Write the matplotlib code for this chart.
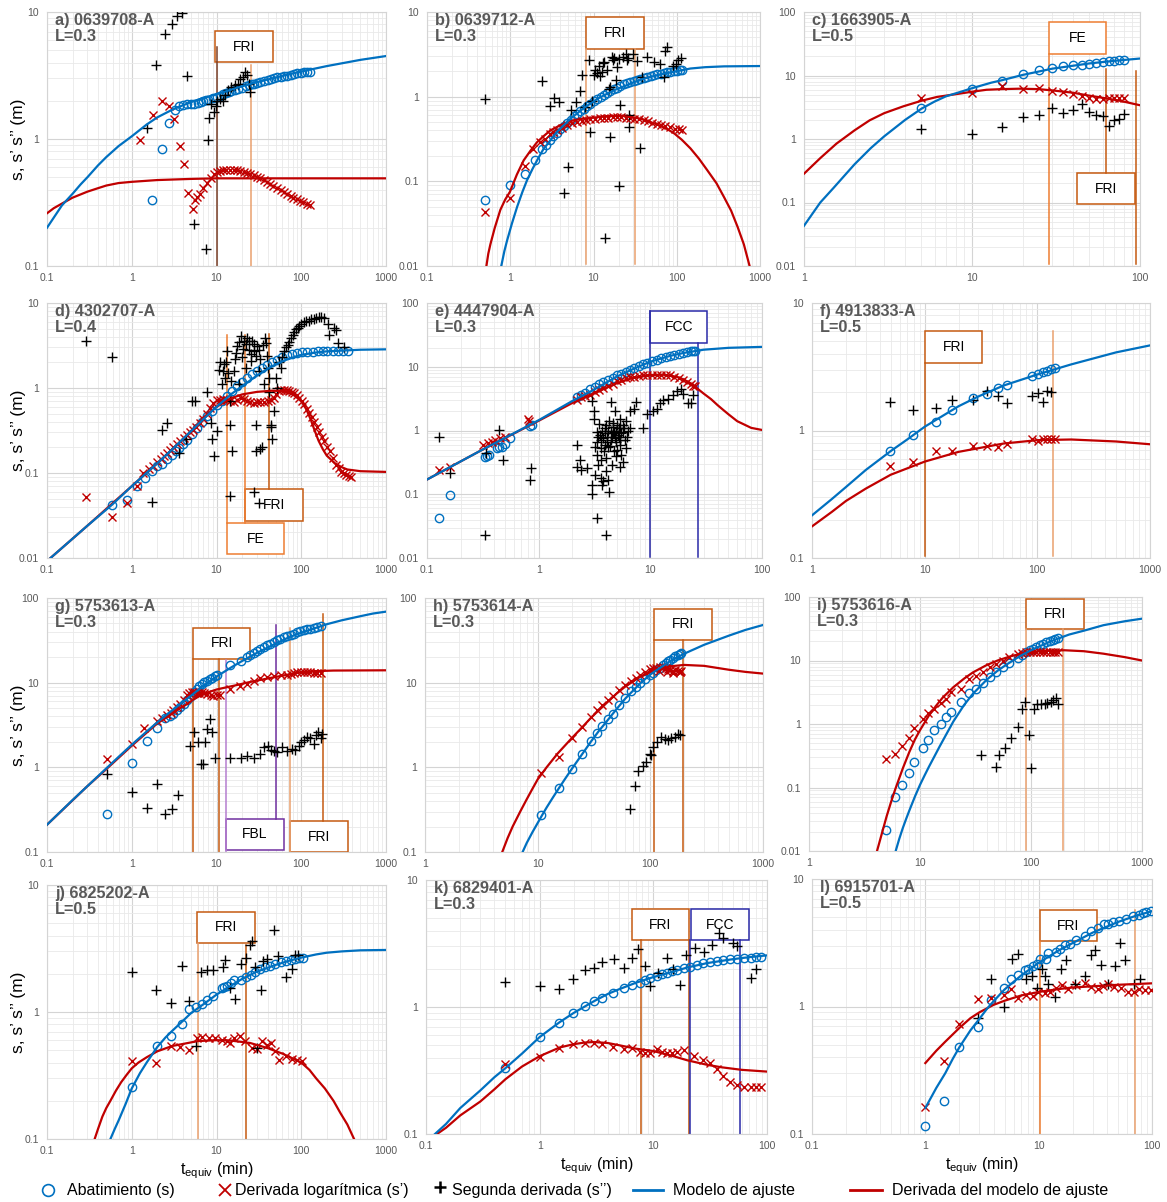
import matplotlib
matplotlib.use("Agg")
import matplotlib.pyplot as plt
from matplotlib.lines import Line2D
from matplotlib.patches import Rectangle
from matplotlib.ticker import LogLocator, FuncFormatter, NullFormatter

OUTPUT_PATH = "out.png"
FIG_W, FIG_H = 1167, 1202

BLUE = "#0070C0"
RED = "#C00000"
TICK_GRAY = "#595959"
LIMIT_COLORS = {
    "fri": "#C55A11",
    "fri_light": "#E9A06E",
    "fe": "#ED7D31",
    "fbl": "#7030A0",
    "fbl_light": "#B57FD0",
    "fcc": "#2A2AA8",
    "dark": "#7A4028",
}

# ---------------------------------------------------------------- well data
# every series is a list of (t_equiv [min], value [m])

A_S = [(1.73, 0.33), (2.25, 0.83), (2.73, 1.34), (3.2, 1.68), (3.65, 1.83), (4.0, 1.86), (4.5, 1.87),
       (5.0, 1.88), (5.5, 1.9), (6.0, 1.93), (6.5, 1.96), (7.0, 1.99), (7.5, 2.01), (8.0, 2.04), (9.0, 2.09),
       (10, 2.15), (11, 2.2), (12, 2.25), (13, 2.3), (14, 2.34), (15, 2.38), (16.5, 2.43), (18, 2.48),
       (20, 2.54), (22, 2.6), (24, 2.65), (26, 2.69), (28, 2.73), (30, 2.77), (33, 2.82), (36, 2.87),
       (40, 2.92), (44, 2.97), (48, 3.01), (52, 3.05), (57, 3.09), (62, 3.12), (68, 3.16), (75, 3.2),
       (82, 3.24), (90, 3.28), (98, 3.31), (107, 3.34), (117, 3.36), (128, 3.38)]
A_DS = [(1.26, 0.99), (1.77, 1.54), (2.25, 1.98), (2.73, 1.81), (3.18, 1.43), (3.74, 0.875), (4.13, 0.64),
        (4.6, 0.378), (5.27, 0.28), (5.6, 0.33), (5.9, 0.35), (6.4, 0.37), (6.9, 0.41), (7.8, 0.45),
        (8.5, 0.49), (9.3, 0.53), (10.2, 0.55), (11, 0.56), (12, 0.57), (13, 0.575), (14.5, 0.575),
        (16, 0.575), (17.5, 0.57), (19, 0.56), (21, 0.55), (23, 0.54), (25, 0.53), (27.5, 0.52), (30, 0.505),
        (33, 0.49), (36, 0.475), (39, 0.46), (43, 0.445), (47, 0.43), (52, 0.41), (57, 0.395), (62, 0.385),
        (68, 0.37), (75, 0.355), (81, 0.345), (88, 0.335), (96, 0.325), (106, 0.318), (116, 0.31), (128, 0.303)]
A_D2S = [(1.51, 1.22), (1.95, 3.8), (2.47, 6.75), (2.97, 8.0), (3.4, 9.3), (3.9, 9.9), (4.49, 3.11),
         (5.37, 0.216), (7.47, 0.135), (7.86, 0.98), (8.2, 1.47), (8.7, 1.87), (9.3, 1.63), (9.8, 1.82),
         (10.2, 2.0), (11.1, 2.05), (12, 2.0), (12.7, 2.23), (13.8, 2.45), (15, 2.56), (16.6, 2.66),
         (17.9, 2.72), (19.1, 2.96), (20.4, 3.1), (21.8, 3.35), (23, 3.2), (24, 2.72), (24.8, 2.34)]
A_FIT = [(0.1, 0.2), (0.12, 0.24), (0.15, 0.3), (0.2, 0.37), (0.25, 0.44), (0.3, 0.5), (0.4, 0.62),
         (0.5, 0.72), (0.7, 0.88), (1, 1.05), (1.5, 1.3), (2, 1.48), (3, 1.7), (4, 1.84), (5, 1.95), (7, 2.1),
         (10, 2.25), (15, 2.45), (20, 2.6), (30, 2.8), (50, 3.05), (70, 3.22), (100, 3.4), (200, 3.75),
         (500, 4.2), (1000, 4.5)]
A_DFIT = [(0.1, 0.26), (0.12, 0.285), (0.15, 0.31), (0.2, 0.345), (0.3, 0.385), (0.4, 0.41), (0.5, 0.43),
          (0.7, 0.45), (1, 0.46), (2, 0.475), (5, 0.485), (10, 0.49), (1000, 0.49)]
A_LIMITS = [(10, 0.1, 5.3, "dark"), (25.5, 0.1, 3.8, "fri_light")]
A_BOXES = [(9.5, 46, 4.02, 7.08, "FRI", "fri")]

B_S = [(0.503, 0.061), (0.99, 0.091), (1.49, 0.121), (1.97, 0.18), (2.4, 0.239), (2.7, 0.27), (3.04, 0.305),
       (3.3, 0.34), (3.66, 0.372), (4.0, 0.41), (4.4, 0.445), (4.8, 0.49), (5.3, 0.536), (5.8, 0.585),
       (6.3, 0.63), (6.9, 0.675), (7.6, 0.72), (8.4, 0.775), (9.2, 0.83), (10.1, 0.89), (11.1, 0.95),
       (12.2, 1.0), (13.3, 1.06), (14.6, 1.11), (16, 1.17), (17.6, 1.22), (19.3, 1.28), (21, 1.34), (23, 1.4),
       (25.3, 1.45), (27.8, 1.49), (30.5, 1.54), (33.5, 1.58), (36.6, 1.63), (40, 1.67), (44, 1.72),
       (48.5, 1.77), (53, 1.8), (58, 1.83), (64, 1.87), (70, 1.9), (77, 1.94), (84, 1.97), (92, 2.0),
       (101, 2.03), (108, 2.05), (116, 2.08)]
B_DS = [(0.503, 0.043), (0.99, 0.064), (1.49, 0.152), (1.9, 0.24), (2.3, 0.29), (2.6, 0.32), (3.0, 0.36),
        (3.3, 0.38), (3.66, 0.4), (4.2, 0.43), (4.8, 0.46), (5.5, 0.485), (6.3, 0.5), (7.2, 0.515), (8.2, 0.53),
        (9.2, 0.54), (10.5, 0.55), (12, 0.555), (13.3, 0.56), (15, 0.565), (17, 0.57), (19.3, 0.575),
        (21.5, 0.57), (24.5, 0.565), (27.8, 0.56), (31, 0.55), (35, 0.54), (40, 0.53), (45, 0.51), (51, 0.49),
        (58, 0.48), (65, 0.46), (73, 0.45), (84, 0.44), (95, 0.42), (105, 0.41), (116, 0.4)]
B_D2S = [(0.503, 0.93), (2.4, 1.52), (3.0, 0.78), (3.4, 0.96), (3.9, 0.86), (4.4, 0.072), (5.0, 0.147),
         (5.3, 0.69), (6.1, 0.87), (6.8, 1.16), (7.2, 1.78), (7.9, 0.76), (8.8, 2.7), (9.2, 0.385), (9.5, 0.9),
         (10, 1.8), (10.3, 2.05), (11, 1.9), (11.6, 2.3), (12, 1.75), (12.5, 1.95), (13, 2.47), (13.5, 2.6),
         (13.9, 0.0217), (14.4, 2.06), (15.3, 1.24), (15.8, 0.33), (16, 1.3), (16.8, 2.95), (17.2, 2.74),
         (17.8, 2.9), (18.4, 1.56), (19.3, 2.24), (20, 2.8), (20.3, 0.088), (21, 0.8), (22.5, 2.95),
         (24.3, 3.2), (25, 2.72), (26, 2.9), (26.5, 0.61), (27, 0.44), (29.7, 3.2), (33.5, 2.63), (36.6, 0.25),
         (38, 1.7), (44, 2.95), (53, 2.55), (62.5, 2.44), (70, 1.7), (71.5, 3.5), (77, 3.87), (91, 2.3),
         (98, 2.4), (104, 2.7), (112, 2.85)]
B_FIT = [(0.78, 0.01), (0.85, 0.015), (0.916, 0.02), (1.05, 0.032), (1.21, 0.05), (1.4, 0.075), (1.59, 0.103),
         (1.85, 0.14), (2.1, 0.177), (2.5, 0.24), (3.04, 0.305), (3.6, 0.38), (4.4, 0.46), (5.3, 0.55),
         (6.3, 0.63), (7.6, 0.73), (9.2, 0.83), (11.5, 0.96), (14.5, 1.08), (18, 1.2), (23, 1.32), (30, 1.47),
         (40, 1.63), (55, 1.77), (70, 1.87), (100, 2.0), (146, 2.15), (220, 2.23), (370, 2.28), (1000, 2.3)]
B_DFIT = [(0.517, 0.01), (0.545, 0.014), (0.577, 0.018), (0.65, 0.028), (0.76, 0.046), (0.87, 0.061),
          (0.99, 0.075), (1.2, 0.12), (1.45, 0.177), (1.75, 0.23), (2.1, 0.29), (2.5, 0.34), (3.04, 0.4),
          (4, 0.46), (5.3, 0.515), (7, 0.545), (9.2, 0.56), (14.5, 0.59), (23, 0.59), (36.6, 0.55), (58, 0.47),
          (75, 0.42), (92.6, 0.37), (115, 0.31), (146, 0.245), (185, 0.185), (233, 0.135), (300, 0.095),
          (370, 0.065), (450, 0.045), (538, 0.029), (640, 0.018), (750, 0.01)]
B_LIMITS = [(8.2, 0.0105, 3.69, "fri_light"), (31.4, 0.0105, 3.69, "fri_light")]
B_BOXES = [(8.2, 40.8, 3.69, 8.73, "FRI", "fri")]

C_S = [(5, 3.08), (10, 6.2), (15, 8.3), (20, 10.4), (25, 12.0), (30, 13.1), (35, 13.9), (40, 14.4), (45, 14.9),
       (50, 15.4), (55, 15.9), (60, 16.3), (65, 16.7), (70, 17.1), (75, 17.4), (80, 17.7)]
C_DS = [(5, 4.42), (10, 5.3), (15, 6.8), (20, 6.2), (25, 6.4), (30, 5.8), (35, 5.4), (40, 5.2), (45, 4.7),
        (50, 4.4), (55, 4.3), (60, 4.3), (65, 4.35), (70, 4.45), (75, 4.4), (80, 4.35)]
C_D2S = [(5, 1.44), (10, 1.2), (15, 1.54), (20, 2.2), (25, 2.4), (30, 3.1), (35, 2.6), (40, 2.9), (45, 3.5),
         (50, 2.7), (55, 2.35), (60, 2.3), (65, 1.6), (70, 2.0), (75, 2.1), (80, 2.5)]
C_FIT = [(1, 0.043), (1.25, 0.1), (1.5, 0.17), (2, 0.4), (2.5, 0.72), (3, 1.1), (4, 2.0), (5, 3.0), (6, 3.9),
         (7, 4.7), (8.5, 5.5), (10, 6.3), (13, 7.7), (15, 8.4), (20, 10.2), (30, 12.8), (50, 15.5), (70, 17.0),
         (100, 18.5)]
C_DFIT = [(1, 0.284), (1.25, 0.5), (1.56, 0.845), (2, 1.37), (2.46, 1.97), (3, 2.55), (3.9, 3.27), (5, 4.0),
          (6.2, 4.6), (7.7, 5.0), (10, 5.55), (12.2, 5.96), (15, 6.1), (19.3, 6.2), (25, 6.1), (30.5, 5.8),
          (40, 5.35), (48, 4.9), (60, 4.45), (76, 4.0), (100, 3.4)]
C_LIMITS = [(28.6, 0.0107, 22, "fe"), (62.7, 0.295, 12.8, "fri"), (94.2, 0.0107, 11.8, "fri")]
C_BOXES = [(28.6, 62.7, 22, 69.6, "FE", "fe"), (42.3, 93.4, 0.0935, 0.295, "FRI", "fri")]

D_S = [(0.58, 0.0417), (0.87, 0.0486), (1.14, 0.07), (1.44, 0.0874), (1.73, 0.107), (2.0, 0.12),
       (2.27, 0.129), (2.6, 0.147), (2.98, 0.164), (3.3, 0.18), (3.57, 0.197), (4.0, 0.22), (4.45, 0.247),
       (5.1, 0.29), (5.86, 0.34), (6.7, 0.4), (7.7, 0.464), (8.8, 0.54), (10.1, 0.625), (11.5, 0.71),
       (13.2, 0.81), (15.2, 0.93), (17.5, 1.05), (20, 1.18), (23, 1.31), (26.3, 1.45), (30, 1.6), (34.5, 1.74),
       (39.6, 1.88), (45, 2.02), (52, 2.15), (60, 2.29), (68.4, 2.42), (78, 2.5), (90, 2.58), (103, 2.62),
       (118, 2.65), (136, 2.68), (156, 2.7), (180, 2.7), (204, 2.7), (235, 2.7), (268, 2.7), (310, 2.7),
       (352, 2.7)]
D_DS = [(0.29, 0.052), (0.58, 0.03), (0.87, 0.0438), (1.14, 0.071), (1.37, 0.1), (1.6, 0.11), (1.8, 0.122),
        (2.0, 0.135), (2.2, 0.148), (2.4, 0.16), (2.6, 0.172), (2.85, 0.187), (3.1, 0.202), (3.4, 0.218),
        (3.7, 0.235), (4.1, 0.255), (4.5, 0.278), (4.9, 0.3), (5.3, 0.32), (5.8, 0.35), (6.4, 0.385),
        (7.0, 0.43), (7.7, 0.5), (8.4, 0.58), (9.2, 0.66), (10, 0.72), (11, 0.73), (12, 0.74), (13.2, 0.73),
        (14.5, 0.71), (15.9, 0.69), (17.5, 0.72), (19.2, 0.76), (21, 0.74), (23, 0.71), (25, 0.69),
        (27.6, 0.67), (30, 0.68), (33, 0.69), (36, 0.69), (40, 0.7), (43.5, 0.73), (47.6, 0.76), (51, 0.84),
        (54.5, 0.91), (58, 0.94), (62.5, 0.96), (67, 0.95), (71.8, 0.93), (77, 0.9), (82.5, 0.87), (88, 0.82),
        (94.7, 0.76), (101, 0.7), (108.7, 0.64), (116, 0.57), (124.7, 0.51), (133, 0.45), (143, 0.4),
        (153, 0.35), (164, 0.3), (176, 0.265), (188, 0.235), (202, 0.205), (216, 0.18), (237, 0.151),
        (259, 0.125), (276, 0.113), (296, 0.104), (318, 0.1), (340, 0.096), (365, 0.092), (390, 0.09)]
D_D2S = [(0.29, 3.6), (0.58, 2.3), (1.73, 0.0456), (2.27, 0.318), (2.6, 0.39), (3.57, 0.17), (4.4, 0.25),
         (5.1, 0.7), (5.6, 0.7), (7.7, 0.9), (8.5, 0.39), (8.9, 0.25), (9.4, 0.16), (10.1, 0.31), (10.6, 1.64),
         (11.1, 2.0), (11.6, 1.1), (12, 1.6), (12.1, 1.9), (12.6, 1.3), (13, 2.0), (13.3, 2.7), (13.8, 1.5),
         (14.6, 0.7), (14.6, 0.37), (14.6, 0.054), (15, 1.2), (15.3, 0.18), (16, 1.6), (16.5, 2.2), (17, 2.6),
         (17.5, 3.1), (18.3, 1.1), (18.5, 3.5), (19.2, 4.1), (20, 2.3), (20.5, 2.9), (21, 3.6), (22, 1.7),
         (22.5, 3.3), (23, 3.9), (24, 3.6), (24.2, 2.8), (25.3, 2.1), (25.8, 2.5), (26.5, 3.6), (27.6, 2.7),
         (27.6, 0.06), (28, 3.3), (28.9, 0.37), (28.9, 0.18), (29, 2.4), (30, 3.1), (31.6, 1.6),
         (31.6, 0.0445), (32, 2.8), (33, 2.2), (33, 0.19), (34.6, 0.2), (35, 3.2), (36, 1.1), (37.7, 3.9),
         (38, 3.4), (39.6, 2.4), (40, 1.7), (41.6, 0.9), (42, 1.3), (43.5, 0.37), (44, 0.35), (45.7, 0.25),
         (47.9, 0.53), (50, 1.3), (52, 1.0), (55, 2.0), (57.5, 1.7), (60, 2.3), (63, 2.7), (66, 3.0),
         (68.9, 3.2), (72, 3.5), (75.6, 3.9), (80, 4.2), (83, 4.6), (87, 4.9), (91, 5.1), (95, 5.4),
         (99.6, 5.6), (107, 5.9), (114, 6.1), (122, 6.2), (131, 6.4), (140, 6.5), (150, 6.7), (160, 6.9),
         (172, 6.8), (186, 6.7), (205, 5.6), (215, 4.2), (246, 5.1), (258, 4.8), (270, 3.4), (320, 3.0)]
D_FIT = [(0.11, 0.01), (0.3, 0.024), (0.58, 0.042), (1, 0.07), (2, 0.13), (3, 0.19), (5, 0.31), (7, 0.43),
         (10, 0.6), (15, 0.85), (20, 1.05), (30, 1.4), (40, 1.68), (50, 1.9), (70, 2.2), (100, 2.45),
         (150, 2.62), (200, 2.7), (500, 2.82), (1000, 2.85)]
D_DFIT = [(0.11, 0.01), (0.3, 0.024), (1, 0.07), (2, 0.13), (3, 0.19), (5, 0.31), (7, 0.45), (10, 0.6),
          (15, 0.76), (20, 0.84), (30, 0.9), (45, 0.93), (60, 0.92), (80, 0.84), (100, 0.7), (115, 0.56),
          (130, 0.42), (145, 0.31), (160, 0.24), (180, 0.19), (200, 0.16), (250, 0.13), (300, 0.117),
          (350, 0.11), (500, 0.105), (1000, 0.103)]
D_LIMITS = [(13.3, 0.0258, 4.24, "fe"), (21.9, 0.0258, 4.24, "fe"), (41.4, 0.065, 4.3, "fri")]
D_BOXES = [(13.3, 63.3, 0.011, 0.0258, "FE", "fe"), (21.9, 105, 0.0275, 0.065, "FRI", "fri")]

E_S = [(0.127, 0.0424), (0.16, 0.0985), (0.332, 0.38), (0.344, 0.4), (0.36, 0.42), (0.42, 0.53), (0.44, 0.55),
       (0.47, 0.56), (0.5, 0.62), (0.55, 0.75), (0.84, 1.16), (0.87, 1.2), (2.19, 3.3), (2.4, 3.6), (2.6, 3.9),
       (2.9, 4.4), (3.2, 4.8), (3.5, 5.3), (3.8, 5.75), (4.2, 6.2), (4.6, 6.7), (5.0, 7.3), (5.5, 7.8),
       (6.0, 8.4), (6.6, 9.0), (7.2, 9.6), (7.9, 10.3), (8.6, 11.0), (9.4, 11.6), (10.3, 12.2), (11.4, 12.9),
       (12.5, 13.6), (13.7, 14.3), (15, 14.9), (16.4, 15.5), (18, 16.1), (19.7, 16.6), (21.5, 17.1),
       (23, 17.4), (24.2, 17.6), (25, 17.8)]
E_DS = [(0.127, 0.243), (0.16, 0.27), (0.32, 0.6), (0.35, 0.64), (0.38, 0.67), (0.41, 0.7), (0.45, 0.75),
        (0.5, 0.79), (0.8, 1.5), (0.82, 1.4), (2.19, 3.05), (2.4, 3.3), (2.6, 3.45), (2.9, 3.65), (3.2, 4.0),
        (3.5, 4.3), (3.8, 4.6), (4.2, 5.0), (4.6, 5.4), (5.0, 5.9), (5.5, 6.3), (6.0, 6.6), (6.6, 6.8),
        (7.2, 7.0), (7.9, 7.2), (8.6, 7.3), (9.4, 7.4), (10.3, 7.5), (11.4, 7.5), (12.5, 7.5), (13.7, 7.4),
        (15, 7.3), (16.4, 7.0), (18, 6.6), (19.7, 6.2), (21.5, 5.7), (23, 5.3), (24.2, 5.0), (25, 4.9)]
E_D2S = [(0.127, 0.79), (0.16, 0.215), (0.33, 0.023), (0.34, 0.44), (0.44, 1.01), (0.48, 0.34), (0.84, 0.165),
         (0.85, 0.26), (2.2, 0.6), (2.2, 0.27), (2.35, 0.35), (2.4, 0.24), (2.7, 0.26), (3.0, 2.9), (3.1, 2.0),
         (3.15, 1.5), (3.0, 0.14), (3.0, 0.1), (3.2, 0.2), (3.2, 0.55), (3.3, 0.96), (3.3, 0.67), (3.35, 0.42),
         (3.4, 0.29), (3.4, 0.8), (3.5, 1.25), (3.55, 0.86), (3.6, 0.53), (3.6, 0.7), (3.6, 0.35), (3.65, 0.18),
         (3.7, 0.14), (3.7, 1.0), (3.8, 0.76), (3.8, 0.16), (3.85, 0.47), (3.9, 1.08), (3.9, 0.9), (3.9, 0.6),
         (4.0, 0.37), (4.0, 0.23), (4.0, 1.2), (4.1, 0.67), (4.1, 0.8), (4.2, 0.97), (4.2, 0.165), (4.2, 0.55),
         (4.3, 1.4), (4.3, 0.11), (4.35, 0.57), (4.4, 2.8), (4.4, 0.7), (4.4, 1.0), (4.5, 0.8), (4.5, 0.29),
         (4.6, 1.15), (4.6, 0.9), (4.6, 1.3), (4.7, 0.47), (4.7, 0.96), (4.8, 2.0), (4.8, 0.75), (4.9, 0.67),
         (4.9, 1.0), (4.9, 0.4), (5.0, 1.2), (5.0, 0.5), (5.1, 0.86), (5.2, 0.8), (5.2, 1.1), (5.3, 1.5),
         (5.3, 0.7), (5.35, 0.6), (5.35, 0.27), (5.4, 1.08), (5.5, 0.42), (5.5, 0.9), (5.7, 0.96), (5.7, 0.32),
         (5.7, 1.24), (5.8, 1.1), (5.9, 0.72), (6.0, 1.4), (6.1, 0.53), (6.2, 0.8), (6.3, 1.0), (6.6, 1.1),
         (3.3, 0.042), (4.0, 0.023), (6.6, 2.0), (7.2, 2.2), (7.5, 2.8), (8.6, 1.1), (9.3, 1.8), (10.6, 2.0),
         (11.4, 2.2), (12.2, 2.7), (13, 3.0), (14.5, 3.1), (16, 3.6), (17.4, 4.1), (19, 4.4), (19.7, 3.7),
         (21.7, 2.7), (23, 2.7), (24, 3.6)]
E_FIT = [(0.1, 0.17), (0.3, 0.48), (1, 1.45), (2, 2.9), (3, 4.2), (5, 7.0), (7, 9.2), (10, 12.0), (15, 14.8),
         (20, 16.5), (30, 18.5), (50, 19.8), (100, 20.5)]
E_DFIT = [(0.1, 0.17), (0.3, 0.48), (1, 1.42), (2, 2.7), (3, 3.7), (5, 5.5), (7, 6.7), (10, 7.4), (13, 7.5),
          (17, 7.0), (20, 6.3), (22.5, 5.6), (25, 4.9), (30, 3.8), (35, 3.1), (40, 2.5), (45, 2.1), (50, 1.8),
          (60, 1.4), (80, 1.1), (100, 1.02)]
E_LIMITS = [(10, 0.0105, 74, "fcc"), (26.8, 0.0105, 23.6, "fcc")]
E_BOXES = [(10, 32.2, 23.6, 74, "FCC", "fcc")]

F_S = [(4.95, 0.695), (7.86, 0.927), (12.7, 1.17), (17.4, 1.44), (26.6, 1.79), (35.9, 1.95), (44.7, 2.16),
       (53.3, 2.29), (90.5, 2.7), (101, 2.77), (112, 2.88), (123, 2.95), (131, 3.04), (144, 3.09)]
F_DS = [(4.95, 0.53), (7.86, 0.57), (12.7, 0.69), (17.4, 0.695), (26.6, 0.75), (35.9, 0.76), (44.7, 0.74),
        (53.3, 0.78), (90.5, 0.85), (101, 0.83), (112, 0.85), (123, 0.85), (131, 0.85), (144, 0.85)]
F_D2S = [(4.95, 1.67), (7.86, 1.45), (12.7, 1.5), (17.4, 1.73), (26.6, 1.75), (35.9, 2.05), (44.7, 1.88),
         (53.3, 1.64), (90.5, 1.86), (101, 1.98), (112, 1.67), (123, 2.03), (131, 2.0)]
F_FIT = [(1, 0.216), (1.5, 0.29), (2, 0.36), (3, 0.49), (5, 0.69), (7, 0.85), (10, 1.07), (20, 1.55),
         (30, 1.85), (50, 2.25), (100, 2.75), (200, 3.3), (500, 4.1), (1000, 4.65)]
F_DFIT = [(1, 0.177), (1.5, 0.23), (2, 0.28), (3, 0.35), (5, 0.45), (10, 0.57), (20, 0.68), (50, 0.79),
          (100, 0.84), (200, 0.85), (500, 0.82), (1000, 0.78)]
F_LIMITS = [(10, 0.104, 3.38, "fri"), (137, 0.104, 6.0, "fri_light")]
F_BOXES = [(10, 32.6, 3.38, 6.0, "FRI", "fri")]

G_S = [(0.51, 0.279), (1.0, 1.135), (1.5, 2.05), (2.0, 2.92), (2.5, 3.8), (2.8, 4.0), (3.1, 4.3), (3.4, 4.7),
       (3.7, 5.1), (4.1, 5.6), (4.5, 6.2), (4.9, 6.7), (5.2, 7.1), (5.5, 7.7), (5.9, 8.5), (6.3, 9.1),
       (6.7, 9.7), (7.2, 10.2), (7.8, 10.6), (8.3, 11.0), (8.9, 11.3), (9.5, 11.9), (10.2, 12.4), (14.5, 16.0),
       (19.2, 17.9), (23, 20.0), (25, 21.2), (27.5, 22.6), (30, 23.8), (33, 25.3), (36, 26.5), (39.5, 27.6),
       (43, 29.0), (47.5, 30.3), (52, 31.6), (56.9, 33.1), (62, 34.3), (68, 35.6), (75, 36.8), (81.6, 37.9),
       (90, 39.2), (97.7, 40.4), (107, 41.5), (117, 42.7), (128, 43.6), (140, 44.6), (155, 45.5), (169, 46.3)]
G_DS = [(0.51, 1.27), (1.0, 1.9), (1.4, 2.9), (2.0, 3.5), (2.3, 3.8), (2.6, 4.1), (2.9, 4.4), (3.1, 4.7),
        (3.4, 5.1), (3.7, 5.6), (4.1, 6.3), (4.5, 7.1), (4.8, 7.5), (5.2, 7.8), (5.5, 7.7), (5.9, 7.6),
        (6.3, 7.65), (6.7, 7.7), (7.2, 7.5), (7.8, 7.4), (8.5, 7.2), (9.2, 7.0), (10, 7.1), (11, 7.2),
        (14.5, 8.5), (19, 9.1), (23, 9.7), (27.5, 10.4), (33, 11.2), (39.5, 11.7), (47.5, 12.0), (57, 12.2),
        (68, 12.4), (75, 12.8), (81.6, 13.1), (90, 13.3), (98, 13.4), (107, 13.4), (117, 13.4), (128, 13.2),
        (140, 13.1), (155, 13.0), (169, 13.0)]
G_D2S = [(0.51, 0.83), (1.0, 0.51), (1.5, 0.33), (2.0, 0.64), (2.5, 0.28), (3.0, 0.32), (3.5, 0.465),
         (4.9, 1.8), (5.4, 2.6), (6.0, 2.0), (6.6, 1.1), (7.0, 1.1), (7.4, 2.0), (7.8, 2.8), (8.3, 3.7),
         (8.8, 2.6), (9.6, 1.3), (14.5, 1.3), (19.2, 1.3), (23, 1.35), (27.5, 1.3), (33, 1.45), (36.5, 1.75),
         (40, 1.8), (44, 1.6), (47.5, 1.55), (52, 1.5), (59, 1.75), (68, 1.55), (78, 1.65), (85, 1.6),
         (94, 1.8), (100, 2.0), (109, 2.1), (117, 2.3), (127, 2.25), (140, 1.9), (150, 2.4), (158, 2.6),
         (169, 2.2), (175, 2.5)]
G_FIT = [(0.1, 0.21), (0.2, 0.41), (0.3, 0.6), (0.5, 0.97), (0.7, 1.33), (1, 1.85), (1.5, 2.65), (2, 3.4),
         (3, 4.7), (4, 5.9), (5, 7.0), (7, 9.2), (10, 11.8), (15, 15.2), (20, 18), (30, 22.5), (50, 29),
         (70, 34), (100, 39), (150, 44.5), (200, 49), (300, 54.5), (500, 61), (700, 65.5), (1000, 69)]
G_DFIT = [(0.1, 0.21), (0.3, 0.6), (0.5, 0.95), (1, 1.8), (2, 3.3), (3, 4.3), (3.7, 5.0), (4.5, 5.6),
          (5.3, 6.3), (6.4, 7.0), (8, 7.7), (10, 8.3), (13, 8.8), (16, 9.2), (25, 10.2), (40, 11.2),
          (60, 12.1), (100, 13.3), (150, 13.7), (240, 13.9), (1000, 14.0)]
G_LIMITS = [(5.28, 0.1, 19.2, "fri"), (10.6, 0.1, 19.2, "fri"), (13.1, 0.1, 18.4, "fbl_light"),
            (50.8, 0.248, 47.6, "fbl"), (74.3, 0.1, 44.6, "fri_light"), (179, 0.232, 65.3, "fri")]
G_BOXES = [(5.28, 25.1, 19.2, 44.2, "FRI", "fri"), (13.1, 62, 0.105, 0.248, "FBL", "fbl"),
           (74.3, 356, 0.1, 0.232, "FRI", "fri")]

H_S = [(10.8, 0.271), (15.5, 0.575), (20, 0.947), (24.5, 1.42), (29.6, 2.05), (33.3, 2.53), (37.6, 3.1),
       (42.2, 3.7), (46.8, 4.3), (52.8, 5.5), (59.3, 6.6), (66.7, 7.9), (74.4, 8.9), (81.6, 10.0), (89, 11.0),
       (98.6, 12.2), (106, 13.1), (113, 14.0), (121, 15.0), (130, 16.0), (137, 16.9), (144, 17.8),
       (151, 18.7), (159, 19.6), (167, 20.5), (176, 21.4), (182, 22.0), (189, 22.6)]
H_DS = [(10.8, 0.857), (15.5, 1.33), (20, 2.2), (24.5, 3.0), (29.6, 3.9), (33.3, 4.7), (37.6, 5.5),
        (42.2, 6.3), (46.8, 6.9), (52.8, 8.1), (59.3, 9.3), (66.7, 10.4), (74.4, 11.4), (81.6, 12.4),
        (89, 13.4), (98.6, 14.4), (106, 14.8), (113, 14.9), (120, 13.8), (121, 15.2), (130, 15.3),
        (137, 14.9), (140, 13.5), (144, 14.6), (151, 14.3), (159, 13.9), (160, 13.0), (167, 14.1),
        (176, 13.9), (182, 13.5), (185, 13.2), (189, 13.6)]
H_D2S = [(65.8, 0.325), (72.8, 0.61), (78.5, 0.9), (85.4, 1.03), (91.5, 1.16), (98.6, 1.42), (102, 1.4),
         (106, 1.74), (115, 2.0), (125, 2.28), (134, 2.17), (144, 2.1), (154, 2.2), (165, 2.29), (176, 2.5),
         (183, 2.4)]
H_FIT = [(7.35, 0.1), (8, 0.128), (9, 0.172), (10, 0.22), (11, 0.275), (12, 0.335), (13.5, 0.43),
         (15, 0.535), (17.5, 0.73), (20, 0.95), (25, 1.45), (30, 2.05), (35, 2.7), (40, 3.35), (50, 4.85),
         (60, 6.5), (80, 9.6), (100, 12.5), (150, 18), (200, 22), (300, 28), (500, 36), (700, 42), (1000, 48)]
H_DFIT = [(4.85, 0.1), (5.4, 0.145), (6, 0.2), (7, 0.3), (8, 0.42), (9, 0.56), (10, 0.72), (12, 1.0),
          (15, 1.45), (20, 2.2), (25, 3.0), (30, 3.9), (40, 5.6), (50, 7.4), (60, 9), (80, 11.6), (100, 13.3),
          (150, 15.6), (200, 16.2), (300, 15.8), (500, 14.2), (700, 13.4), (1000, 12.8)]
H_LIMITS = [(108, 0.1, 32.2, "fri"), (195, 0.1, 32.2, "fri")]
H_BOXES = [(108, 356, 32.2, 74.8, "FRI", "fri")]

I_S = [(4.97, 0.0214), (5.9, 0.0715), (6.9, 0.111), (7.95, 0.172), (8.8, 0.253), (10.6, 0.42), (11.8, 0.56),
       (13.5, 0.8), (15.6, 1.0), (17.2, 1.3), (19.2, 1.55), (23.2, 2.2), (27.5, 3.1), (32, 3.5), (37, 4.5),
       (42.4, 5.5), (48.7, 6.6), (55.8, 7.9), (64, 9.2), (76, 11.0), (83, 12.2), (90, 13.4), (97, 14.4),
       (104.6, 15.4), (112, 16.3), (120, 17.3), (128, 18.4), (137, 19.6), (147, 20.5), (157, 21.4),
       (166, 22.2), (175, 22.9)]
I_DS = [(4.97, 0.28), (5.9, 0.34), (6.9, 0.45), (7.95, 0.6), (8.8, 0.85), (10.6, 1.22), (11.8, 1.5),
        (13.5, 1.75), (15.6, 2.15), (17.2, 2.5), (19.2, 3.2), (23.2, 3.5), (27.5, 5.2), (32, 5.7), (37, 6.6),
        (42.4, 7.9), (48.7, 8.9), (55.8, 10), (64, 11.4), (76, 12.8), (83, 13.0), (90, 13.4), (97, 13.5),
        (104.6, 13.7), (112, 13.6), (120, 13.7), (128, 13.5), (137, 13.7), (147, 13.6), (157, 13.7),
        (166, 13.5), (175, 13.7)]
I_D2S = [(35.7, 0.32), (48, 0.21), (51.5, 0.32), (58.7, 0.42), (66, 0.6), (76, 0.9), (83.5, 1.75), (89, 2.2),
         (95.5, 0.68), (100.6, 0.205), (106, 1.7), (114, 2.03), (124, 2.1), (133, 2.1), (140, 2.15),
         (150, 2.2), (158, 2.4), (167, 2.6), (175, 2.1)]
I_FIT = [(6.04, 0.01), (6.5, 0.0155), (7, 0.023), (7.5, 0.032), (8, 0.043), (9, 0.072), (10, 0.11),
         (11, 0.155), (12, 0.21), (13.5, 0.31), (15, 0.44), (17.5, 0.72), (20, 1.1), (25, 2.0), (30, 3.0),
         (40, 5.0), (50, 6.9), (60, 8.6), (80, 11.8), (100, 14.5), (150, 20), (220, 25.6), (300, 29.5),
         (450, 36), (700, 41.5), (1000, 45.6)]
I_DFIT = [(4.1, 0.01), (4.5, 0.018), (5, 0.035), (5.5, 0.06), (6, 0.095), (7, 0.2), (8, 0.36), (9, 0.57),
          (10, 0.8), (12, 1.35), (14, 1.95), (16, 2.6), (20, 3.8), (25, 5.2), (30, 6.5), (40, 8.5), (50, 10),
          (65, 11.6), (80, 12.7), (120, 14.0), (200, 14.5), (300, 14.0), (450, 12.8), (700, 11.3), (1000, 10)]
I_LIMITS = [(90.8, 0.0105, 31.8, "fri_light"), (194, 0.0105, 31.8, "fri_light")]
I_BOXES = [(90.8, 300, 31.8, 94, "FRI", "fri")]

J_S = [(1.0, 0.256), (1.99, 0.535), (2.93, 0.65), (3.9, 0.81), (4.8, 1.05), (5.8, 1.1), (6.7, 1.15),
       (7.8, 1.25), (9.2, 1.34), (11.6, 1.54), (12.4, 1.57), (13.2, 1.6), (14.8, 1.69), (16.2, 1.8),
       (19.2, 1.8), (22.2, 1.9), (25.5, 1.96), (28.6, 2.08), (33, 2.18), (37.6, 2.26), (43, 2.3), (49.6, 2.4),
       (57, 2.47), (66.5, 2.5), (75.8, 2.57), (85, 2.6), (93, 2.65), (106, 2.65)]
J_DS = [(1.0, 0.41), (1.95, 0.4), (2.93, 0.54), (3.7, 0.53), (4.8, 0.5), (5.9, 0.62), (6.7, 0.64), (8.1, 0.62),
        (9.7, 0.62), (11.7, 0.6), (13.2, 0.59), (14.5, 0.57), (15.9, 0.62), (18.8, 0.65), (21.7, 0.59),
        (26.2, 0.52), (30, 0.51), (34.6, 0.59), (39.7, 0.55), (44.3, 0.57), (49.6, 0.49), (54, 0.42),
        (66.5, 0.45), (78.8, 0.43), (89, 0.42), (101, 0.41)]
J_D2S = [(1.0, 2.05), (1.95, 1.48), (2.93, 1.17), (3.9, 2.32), (4.8, 1.23), (5.7, 0.54), (6.6, 2.05),
         (7.8, 2.15), (9.2, 2.15), (12.0, 2.28), (12.7, 2.55), (14.3, 1.55), (16.4, 1.27), (19.2, 2.38),
         (22.4, 2.66), (25, 3.4), (26.4, 3.6), (28.8, 2.28), (30, 0.52), (33.5, 1.49), (35.8, 2.5), (39.7, 2.6),
         (48.3, 4.4), (52.6, 2.77), (66.8, 1.9), (78.8, 2.18), (85, 2.8), (91, 2.8)]
J_FIT = [(0.56, 0.1), (0.63, 0.12), (0.7, 0.14), (0.85, 0.19), (1, 0.25), (1.25, 0.33), (1.5, 0.4), (2, 0.53),
         (2.5, 0.63), (3, 0.71), (4, 0.85), (5, 0.98), (7, 1.15), (10, 1.37), (15, 1.62), (20, 1.82),
         (30, 2.08), (50, 2.35), (70, 2.52), (100, 2.68), (150, 2.84), (200, 2.93), (300, 3.0), (500, 3.06),
         (1000, 3.08)]
J_DFIT = [(0.365, 0.1), (0.4, 0.12), (0.45, 0.15), (0.5, 0.175), (0.56, 0.2), (0.65, 0.24), (0.75, 0.28),
          (0.87, 0.32), (1, 0.36), (1.2, 0.4), (1.5, 0.44), (2, 0.49), (3, 0.54), (4, 0.56), (6, 0.59),
          (10, 0.6), (15, 0.595), (25, 0.57), (40, 0.52), (60, 0.47), (80, 0.43), (100, 0.4), (125, 0.35),
          (150, 0.3), (190, 0.25), (240, 0.2), (290, 0.16), (350, 0.13), (420, 0.1)]
J_LIMITS = [(6.0, 0.1, 3.48, "fri_light"), (22.3, 0.1, 3.4, "fri")]
J_BOXES = [(5.9, 28.2, 3.48, 6.17, "FRI", "fri")]

K_S = [(0.5, 0.329), (1.0, 0.577), (1.49, 0.753), (1.97, 0.891), (2.5, 1.018), (3.0, 1.115), (3.5, 1.184),
       (4.4, 1.297), (5.5, 1.403), (6.5, 1.49), (7.6, 1.556), (8.5, 1.632), (9.4, 1.68), (10.8, 1.754),
       (12, 1.82), (13.2, 1.864), (14.6, 1.92), (16.2, 1.97), (18.5, 2.02), (21.1, 2.08), (24, 2.14),
       (27.5, 2.21), (31.6, 2.25), (36.2, 2.32), (41.4, 2.34), (47.5, 2.37), (54.5, 2.37), (62.5, 2.42),
       (71.6, 2.45), (79.4, 2.46), (87.8, 2.49)]
K_DS = [(0.5, 0.356), (1.0, 0.406), (1.49, 0.472), (1.97, 0.511), (2.5, 0.518), (3.0, 0.518), (3.5, 0.511),
        (4.4, 0.481), (5.5, 0.464), (6.5, 0.472), (7.6, 0.445), (8.5, 0.437), (9.4, 0.437), (10.8, 0.464),
        (12, 0.445), (13.2, 0.437), (14.6, 0.437), (16.2, 0.445), (18.5, 0.458), (22.8, 0.411), (27.5, 0.383),
        (31.6, 0.365), (36.2, 0.323), (41.4, 0.288), (47.5, 0.255), (54.5, 0.243), (62.5, 0.233),
        (71.6, 0.235), (79.4, 0.235), (87.8, 0.235)]
K_D2S = [(0.5, 1.56), (1.0, 1.46), (1.49, 1.38), (1.97, 1.65), (2.5, 1.96), (3.0, 2.03), (3.5, 2.28),
         (4.5, 2.37), (5.5, 2.04), (6.5, 2.42), (7.3, 2.85), (8.5, 2.1), (9.4, 1.46), (11.1, 1.86), (13.2, 2.42),
         (15, 2.0), (17, 1.49), (19.2, 2.56), (23.3, 2.9), (28, 2.7), (32.8, 3.1), (37.5, 3.8), (41.4, 3.5),
         (50, 3.2), (55, 3.0), (71.6, 1.68), (79.4, 2.0)]
K_FIT = [(0.12, 0.1), (0.15, 0.12), (0.2, 0.16), (0.3, 0.22), (0.4, 0.28), (0.5, 0.33), (0.7, 0.43),
         (1, 0.58), (1.5, 0.76), (2, 0.9), (3, 1.11), (4, 1.27), (5, 1.38), (7, 1.55), (10, 1.72), (15, 1.9),
         (20, 2.05), (30, 2.22), (50, 2.38), (70, 2.47), (100, 2.55)]
K_DFIT = [(0.125, 0.1), (0.15, 0.112), (0.2, 0.14), (0.3, 0.18), (0.4, 0.225), (0.5, 0.27), (0.7, 0.34),
          (1, 0.41), (1.5, 0.48), (2, 0.51), (2.5, 0.525), (3, 0.53), (4, 0.52), (5, 0.5), (7, 0.47),
          (10, 0.45), (15, 0.41), (20, 0.38), (30, 0.35), (40, 0.335), (60, 0.32), (100, 0.31)]
K_LIMITS = [(7.83, 0.1, 3.37, "fri"), (20.7, 0.1, 3.37, "fri"), (21.2, 0.1, 3.37, "fcc"),
            (57.5, 0.1, 3.37, "fcc")]
K_BOXES = [(6.45, 20.6, 3.37, 5.9, "FRI", "fri"), (21.4, 69, 3.37, 5.9, "FCC", "fcc")]

L_S = [(1.0, 0.1155), (1.47, 0.18), (1.97, 0.48), (2.93, 0.69), (3.8, 1.13), (4.9, 1.4), (5.7, 1.64),
       (6.6, 1.77), (7.6, 1.92), (8.1, 1.98), (8.9, 2.06), (9.6, 2.14), (10.3, 2.37), (11.6, 2.35),
       (12.2, 2.65), (14.2, 2.69), (15.4, 2.82), (17, 3.05), (18.8, 3.1), (21.4, 3.3), (25.6, 3.55),
       (29.2, 3.88), (33.4, 4.1), (38, 4.4), (41, 4.45), (45, 4.57), (51.4, 4.7), (58.7, 4.85), (67.5, 5.1),
       (77.3, 5.25), (83, 5.4), (89, 5.5), (98, 5.6)]
L_DS = [(1.0, 0.162), (1.47, 0.375), (1.97, 0.73), (2.93, 1.15), (3.8, 1.16), (4.9, 1.23), (5.7, 1.37),
        (6.6, 1.16), (7.8, 1.23), (8.9, 1.21), (9.9, 1.31), (11.3, 1.27), (12.5, 1.29), (14.3, 1.39),
        (16.2, 1.48), (18.2, 1.37), (21.4, 1.48), (25.6, 1.53), (29.2, 1.42), (33.4, 1.37), (36.8, 1.45),
        (40.8, 1.51), (46.6, 1.43), (53.5, 1.39), (61.2, 1.29), (70, 1.31), (77.3, 1.37), (87.5, 1.35),
        (98, 1.35)]
L_D2S = [(2.93, 0.81), (3.8, 1.64), (4.9, 0.99), (5.8, 2.35), (6.6, 2.58), (7.7, 1.64), (8.7, 1.75),
         (9.6, 1.39), (10.6, 1.98), (11.3, 1.72), (12.2, 1.5), (13.9, 1.18), (15.9, 1.96), (17.3, 2.3),
         (21, 1.49), (25.6, 1.75), (29.2, 2.55), (31.3, 2.78), (35.3, 2.1), (40.8, 1.51), (47.5, 2.08),
         (52.2, 3.14), (58.3, 2.32), (70, 1.51), (78.6, 1.65)]
L_FIT = [(1, 0.16), (1.25, 0.23), (1.5, 0.3), (1.75, 0.39), (2, 0.48), (2.5, 0.65), (3, 0.8), (3.5, 0.96),
         (4, 1.1), (5, 1.36), (7, 1.75), (10, 2.2), (15, 2.75), (20, 3.15), (30, 3.8), (50, 4.6), (70, 5.1),
         (100, 5.6)]
L_DFIT = [(1, 0.36), (1.25, 0.45), (1.5, 0.53), (2, 0.68), (2.5, 0.81), (3, 0.9), (4, 1.03), (5, 1.11),
          (7, 1.22), (10, 1.3), (15, 1.37), (20, 1.41), (50, 1.48), (100, 1.52)]
L_LIMITS = [(10.25, 0.1, 3.24, "fe"), (71.3, 0.1, 5.74, "fri_light")]
L_BOXES = [(10.25, 32.8, 3.24, 5.74, "FRI", "fri")]

PANELS = [
    ("a) 0639708-A", "0.3", (0.1, 1000), (0.1, 10), A_S, A_DS, A_D2S, A_FIT, A_DFIT, A_LIMITS, A_BOXES),
    ("b) 0639712-A", "0.3", (0.1, 1000), (0.01, 10), B_S, B_DS, B_D2S, B_FIT, B_DFIT, B_LIMITS, B_BOXES),
    ("c) 1663905-A", "0.5", (1, 100), (0.01, 100), C_S, C_DS, C_D2S, C_FIT, C_DFIT, C_LIMITS, C_BOXES),
    ("d) 4302707-A", "0.4", (0.1, 1000), (0.01, 10), D_S, D_DS, D_D2S, D_FIT, D_DFIT, D_LIMITS, D_BOXES),
    ("e) 4447904-A", "0.3", (0.1, 100), (0.01, 100), E_S, E_DS, E_D2S, E_FIT, E_DFIT, E_LIMITS, E_BOXES),
    ("f) 4913833-A", "0.5", (1, 1000), (0.1, 10), F_S, F_DS, F_D2S, F_FIT, F_DFIT, F_LIMITS, F_BOXES),
    ("g) 5753613-A", "0.3", (0.1, 1000), (0.1, 100), G_S, G_DS, G_D2S, G_FIT, G_DFIT, G_LIMITS, G_BOXES),
    ("h) 5753614-A", "0.3", (1, 1000), (0.1, 100), H_S, H_DS, H_D2S, H_FIT, H_DFIT, H_LIMITS, H_BOXES),
    ("i) 5753616-A", "0.3", (1, 1000), (0.01, 100), I_S, I_DS, I_D2S, I_FIT, I_DFIT, I_LIMITS, I_BOXES),
    ("j) 6825202-A", "0.5", (0.1, 1000), (0.1, 10), J_S, J_DS, J_D2S, J_FIT, J_DFIT, J_LIMITS, J_BOXES),
    ("k) 6829401-A", "0.3", (0.1, 100), (0.1, 10), K_S, K_DS, K_D2S, K_FIT, K_DFIT, K_LIMITS, K_BOXES),
    ("l) 6915701-A", "0.5", (0.1, 100), (0.1, 10), L_S, L_DS, L_D2S, L_FIT, L_DFIT, L_LIMITS, L_BOXES),
]

# plot areas in pixels: left, right, top, bottom
AXES_PX = [
    (47, 386, 12, 266), (427, 760, 12, 266), (804, 1140, 12, 266),
    (47, 386, 303, 558), (427, 762, 303, 558), (812, 1150, 303, 558),
    (47, 386, 598, 852), (425, 763, 598, 852), (809, 1142, 597, 851),
    (47, 386, 885, 1139), (426, 767, 880, 1134), (812, 1152, 879, 1134),
]

plt.rcParams["font.family"] = ["Liberation Sans", "DejaVu Sans"]
plt.rcParams["mathtext.fontset"] = "custom"
plt.rcParams["mathtext.rm"] = "Liberation Sans"
plt.rcParams["mathtext.it"] = "Liberation Sans"


def unzip(pairs):
    return [p[0] for p in pairs], [p[1] for p in pairs]


def style_axis(ax, xlim, ylim):
    """Excel-like log-log frame with light grid and grey decade labels."""
    ax.set_xscale("log")
    ax.set_yscale("log")
    ax.set_xlim(*xlim)
    ax.set_ylim(*ylim)
    fmt = FuncFormatter(lambda v, _: f"{v:g}")
    for axis in (ax.xaxis, ax.yaxis):
        axis.set_major_locator(LogLocator(base=10, numticks=12))
        axis.set_minor_locator(LogLocator(base=10, subs=range(2, 10), numticks=12))
        axis.set_major_formatter(fmt)
        axis.set_minor_formatter(NullFormatter())
    ax.tick_params(which="both", length=0, labelsize=7.5, labelcolor=TICK_GRAY)
    ax.tick_params(axis="y", pad=6)
    ax.tick_params(axis="x", pad=5)
    ax.grid(which="major", color="#d4d4d4", lw=0.8)
    ax.grid(which="minor", color="#e9e9e9", lw=0.6)
    ax.set_axisbelow(True)
    for sp in ax.spines.values():
        sp.set_color("#d4d4d4")
        sp.set_linewidth(0.8)


def draw_panel(ax, panel):
    title, lval, xlim, ylim, s, ds, d2s, fit, dfit, limits, boxes = panel
    style_axis(ax, xlim, ylim)

    for x0, x1, y0, y1, label, kind in boxes:
        color = LIMIT_COLORS[kind]
        ax.add_patch(Rectangle((x0, y0), x1 - x0, y1 - y0, fc="white", ec=color, lw=1.1, zorder=1.5))
        ax.text((x0 * x1) ** 0.5, (y0 * y1) ** 0.5, label, ha="center", va="center",
                fontsize=10, color="black", zorder=1.6)
    for x, y0, y1, kind in limits:
        ax.plot([x, x], [y0, y1], color=LIMIT_COLORS[kind], lw=1.1, zorder=1.7)

    t, v = unzip(s)
    ax.plot(t, v, ls="none", marker="o", mfc="none", mec=BLUE, ms=6, mew=1.0, zorder=3)
    t, v = unzip(ds)
    ax.plot(t, v, ls="none", marker="x", color=RED, ms=5.5, mew=1.0, zorder=3.1)
    t, v = unzip(d2s)
    ax.plot(t, v, ls="none", marker="+", color="black", ms=6.5, mew=1.0, zorder=3.2)
    t, v = unzip(dfit)
    ax.plot(t, v, color=RED, lw=1.6, zorder=3.3)
    t, v = unzip(fit)
    ax.plot(t, v, color=BLUE, lw=1.6, zorder=3.4)

    ax.text(0.024, 0.997, f"{title}\nL={lval}", transform=ax.transAxes, ha="left", va="top",
            fontsize=11.7, fontweight="bold", color=TICK_GRAY, linespacing=1.1, zorder=4)


def draw_legend(fig):
    """Legend row under the panels, items placed at fixed pixel positions."""
    def fx(px):
        return px / FIG_W

    def fy(py):
        return 1 - py / FIG_H

    y = fy(1190)
    fig.add_artist(Line2D([fx(48)], [y], ls="none", marker="o", mfc="none", mec=BLUE, ms=8.5, mew=1.2))
    fig.text(fx(67), y, "Abatimiento (s)", fontsize=11.5, va="center")
    fig.add_artist(Line2D([fx(225)], [y], ls="none", marker="x", color=RED, ms=8, mew=1.3))
    fig.text(fx(235), y, "Derivada logarítmica (s’)", fontsize=11.5, va="center")
    fig.add_artist(Line2D([fx(440)], [fy(1187)], ls="none", marker="+", color="black", ms=8, mew=1.8))
    fig.text(fx(452), y, "Segunda derivada (s’’)", fontsize=11.5, va="center")
    fig.add_artist(Line2D([fx(633), fx(663)], [y, y], color=BLUE, lw=2))
    fig.text(fx(673), y, "Modelo de ajuste", fontsize=11.5, va="center")
    fig.add_artist(Line2D([fx(850), fx(882)], [y, y], color=RED, lw=2))
    fig.text(fx(892), y, "Derivada del modelo de ajuste", fontsize=11.5, va="center")


def main():
    fig = plt.figure(figsize=(FIG_W / 100, FIG_H / 100), dpi=100)
    for i, (panel, (left, right, top, bottom)) in enumerate(zip(PANELS, AXES_PX)):
        ax = fig.add_axes([left / FIG_W, 1 - bottom / FIG_H, (right - left) / FIG_W, (bottom - top) / FIG_H])
        draw_panel(ax, panel)
        if i % 3 == 0:
            ax.set_ylabel("s, s’ s’’ (m)", fontsize=12.5)
            ax.yaxis.set_label_coords(-0.063, 0.5)
        if i >= 9:
            ax.set_xlabel(r"$\mathrm{t}_{\mathrm{equiv}}$ (min)", fontsize=11.5)
            ax.xaxis.set_label_coords(0.5, -0.085)
    draw_legend(fig)
    fig.savefig(OUTPUT_PATH, dpi=100)
    plt.close(fig)


if __name__ == "__main__":
    main()
